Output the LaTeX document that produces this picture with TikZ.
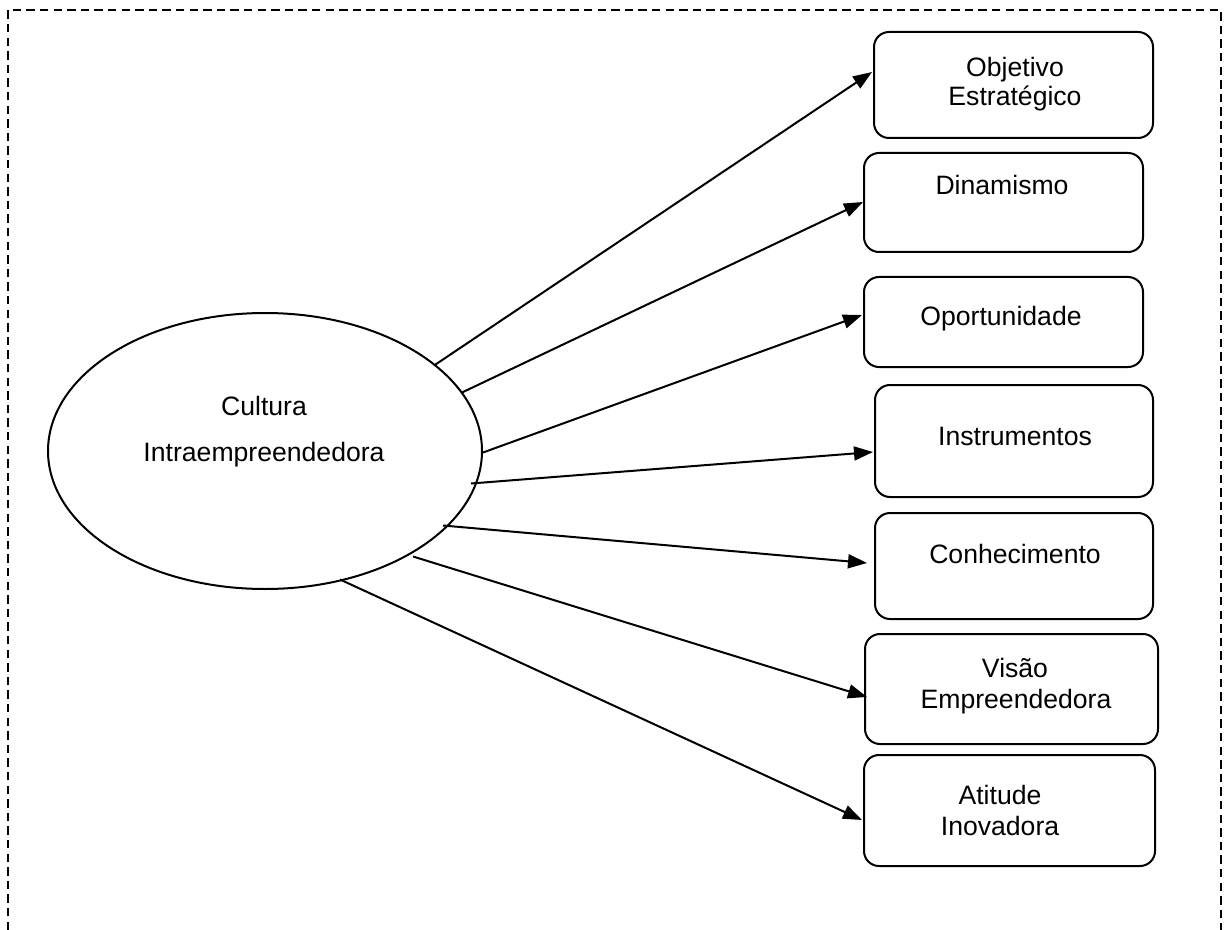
\documentclass[tikz,border=0pt]{standalone}
\usepackage{fontspec}
\setmainfont{Liberation Sans}
\usetikzlibrary{shapes.geometric,arrows.meta,calc}
\begin{document}
\begin{tikzpicture}[x=0.5pt,y=-0.5pt,
  box/.style={draw, line width=1pt, rounded corners=7.5pt, inner sep=0pt},
  txt/.style={font=\fontsize{13.3}{15}\selectfont, anchor=base, inner sep=0pt},
  arr/.style={line width=1pt, -{Triangle[length=9.5pt,width=7pt]}},
  frame/.style={line width=1.1pt, dash pattern=on 4.2pt off 2.6pt}
  ]
\useasboundingbox (0,0) rectangle (1224,930);

% dashed frame, open at the bottom
\draw[frame] (8,930) -- (8,10) -- (1221,10) -- (1221,930);

% central ellipse
\node[draw, ellipse, line width=1pt, inner sep=0pt,
      minimum width=217pt, minimum height=138pt] (el) at (265,451) {};
\node[txt] (c1) at (264,415) {Cultura};
\node[txt] (c2) at (264,461) {Intraempreendedora};

% boxes on the right
\node[box, minimum width=139.5pt, minimum height=53pt]   (ob) at (1013.5,85) {};
\node[box, minimum width=139.5pt, minimum height=49.5pt] (di) at (1003.5,202.5) {};
\node[box, minimum width=139.5pt, minimum height=45pt]   (op) at (1003.5,322) {};
\node[box, minimum width=139pt,   minimum height=56pt]   (in) at (1014,441) {};
\node[box, minimum width=139pt,   minimum height=53pt]   (co) at (1014,566) {};
\node[box, minimum width=146.5pt, minimum height=55pt]   (vi) at (1011.5,689) {};
\node[box, minimum width=145.5pt, minimum height=55.5pt] (at) at (1009.5,810.5) {};

% box texts
\node[txt] (t1a) at (1015,77)  {Objetivo};
\node[txt] (t1b) at (1015,106) {Estratégico};
\node[txt] (t2)  at (1002,195) {Dinamismo};
\node[txt] (t3)  at (1001,325) {Oportunidade};
\node[txt] (t4)  at (1015,445) {Instrumentos};
\node[txt] (t5)  at (1015,563) {Conhecimento};
\node[txt] (t6a) at (1015,677) {Visão};
\node[txt] (t6b) at (1016,708) {Empreendedora};
\node[txt] (t7a) at (1000,804) {Atitude};
\node[txt] (t7b) at (1000,835) {Inovadora};

% start points on the ellipse
\coordinate (s1) at ($(el.center)+(169,-85.5)$);
\coordinate (s2) at ($(el.center)+(197,-58.5)$);
\coordinate (s3) at ($(el.center)+(218,1.5)$);
\coordinate (s4) at ($(el.center)+(206,32.5)$);
\coordinate (s5) at ($(el.center)+(178,74.5)$);
\coordinate (s6) at ($(el.center)+(148,105.5)$);
\coordinate (s7) at ($(el.center)+(75,128.5)$);

% connectors
\draw[arr] (s1) -- ($(ob.west)+(-1,-13)$);
\draw[arr] (s2) -- ($(di.west)+(0,-0.5)$);
\draw[arr] (s3) -- ($(op.west)+(-1,-7)$);
\draw[arr] (s4) -- ($(in.west)+(-1,11)$);
\draw[arr] (s5) -- ($(co.west)+(-7,-3)$);
\draw[arr] (s6) -- ($(vi.west)+(3,8)$);
\draw[arr] (s7) -- ($(at.west)+(-1,9.5)$);
\end{tikzpicture}
\end{document}
